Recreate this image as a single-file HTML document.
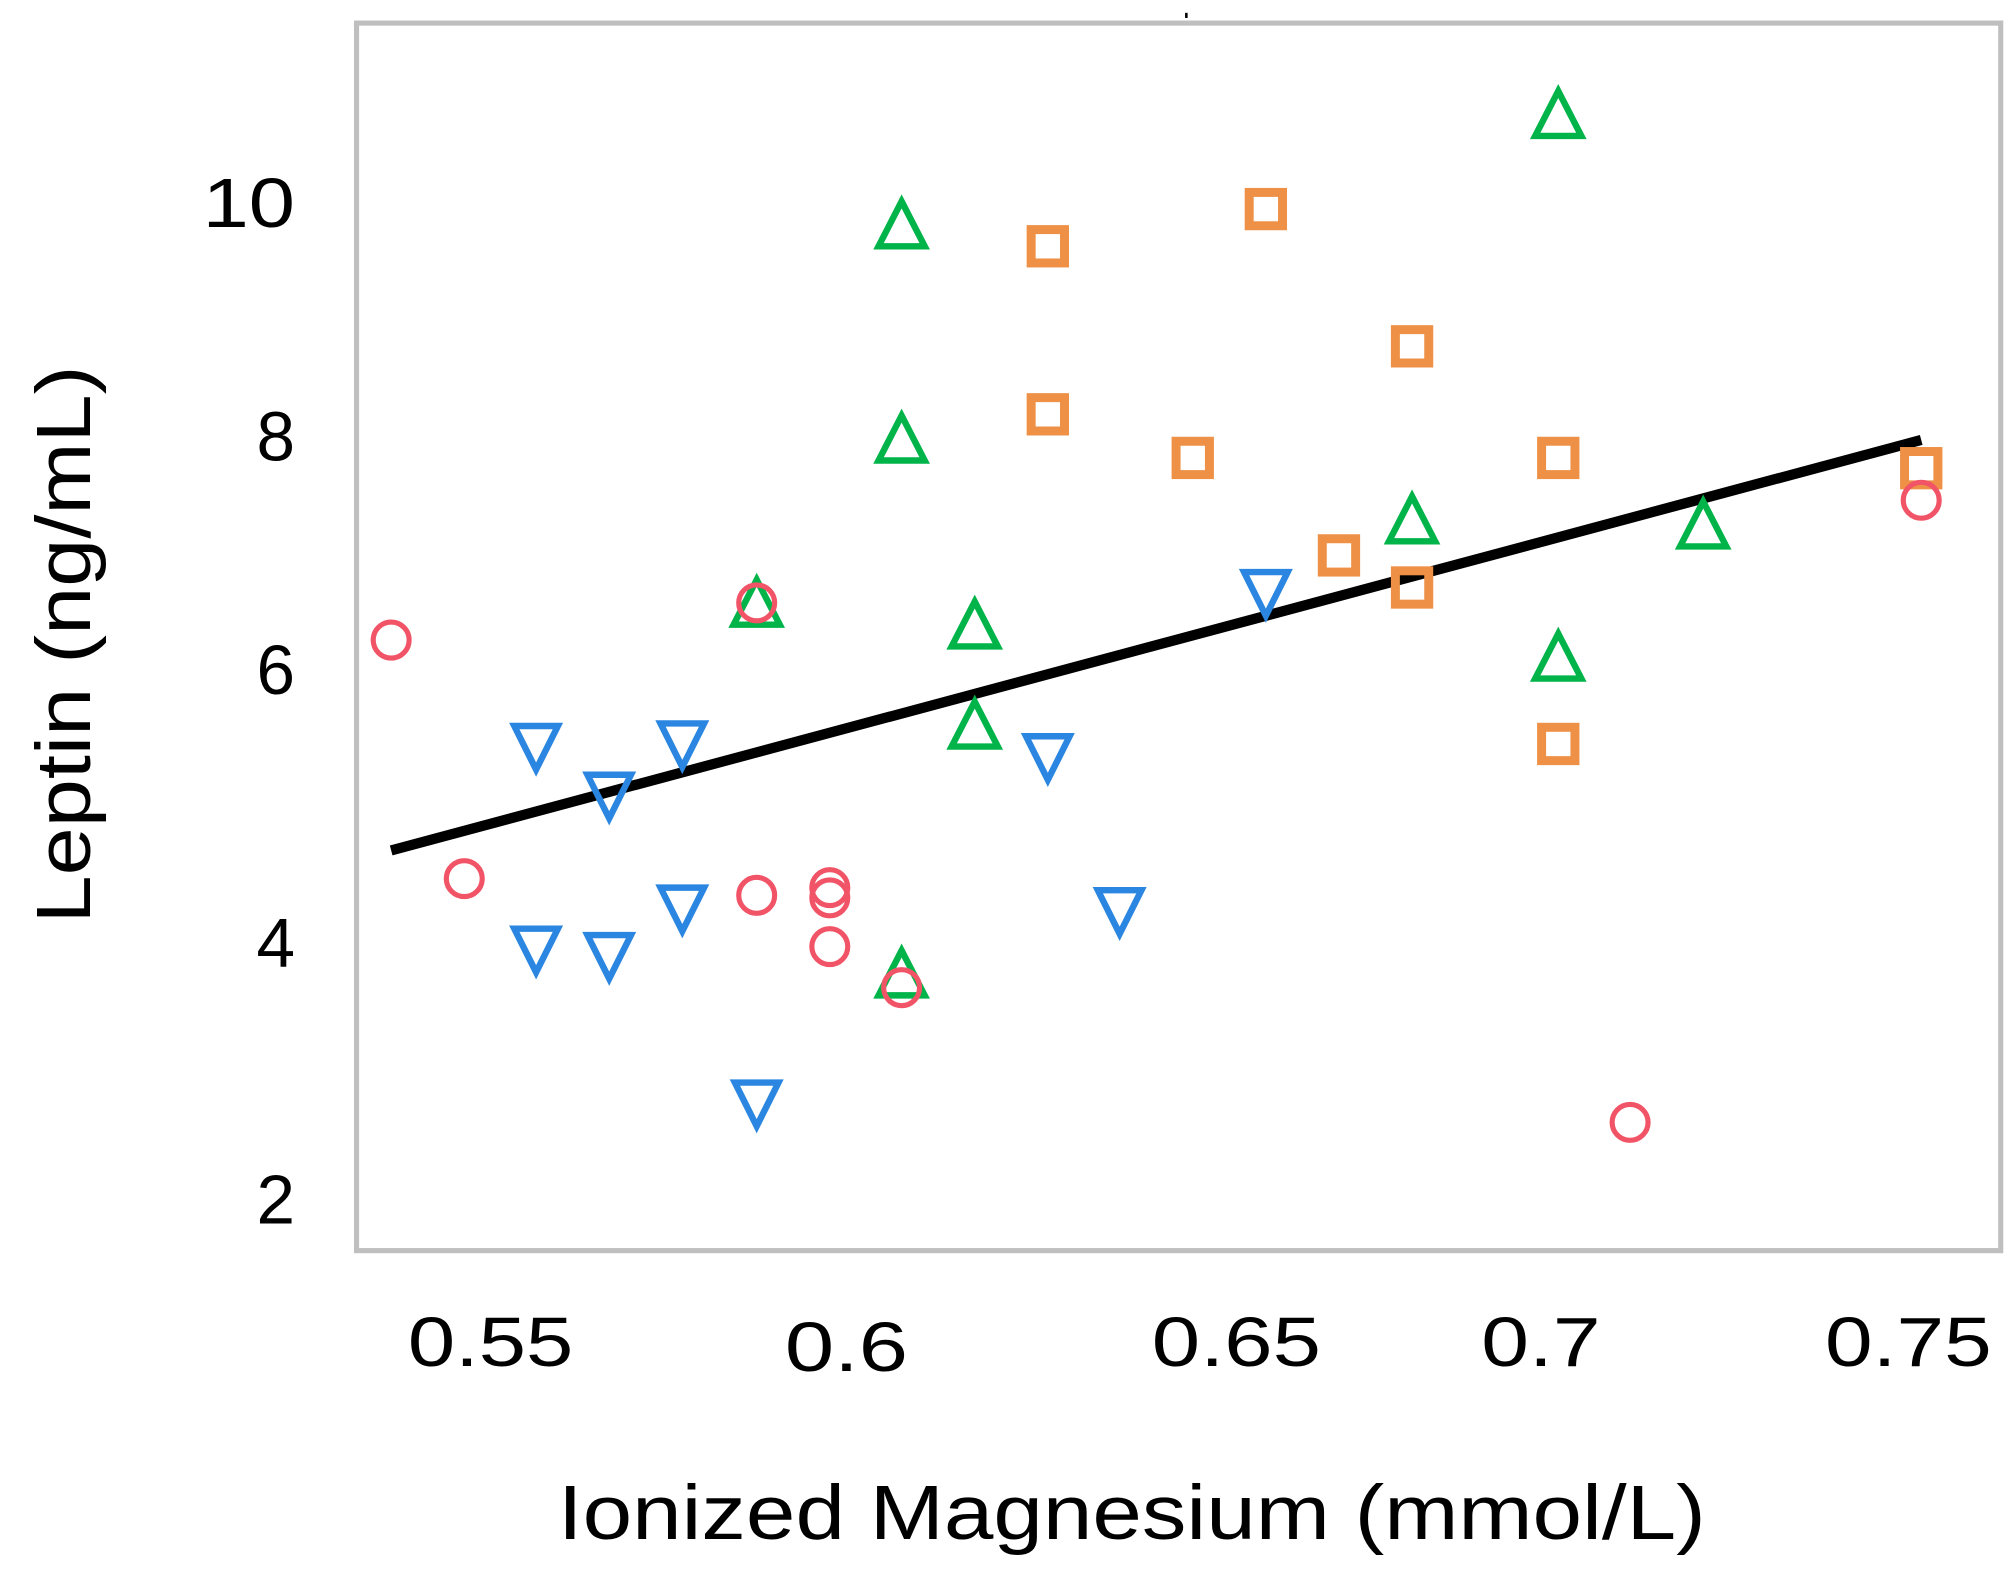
<!DOCTYPE html>
<html><head><meta charset="utf-8"><style>
html,body{margin:0;padding:0;background:#fff;}
svg{display:block;}
text{font-family:"Liberation Sans",sans-serif;fill:#000;}
</style></head><body>
<svg width="2011" height="1579" viewBox="0 0 1568 1231" preserveAspectRatio="none" xmlns="http://www.w3.org/2000/svg">
<rect x="278" y="18" width="1282" height="957" fill="none" stroke="#bfbfbf" stroke-width="4"/>
<line x1="925" y1="10" x2="925" y2="14" stroke="#000" stroke-width="2"/>
<g font-size="54" text-anchor="end">
<text x="230" y="177" textLength="72" lengthAdjust="spacingAndGlyphs">10</text>
<text x="230" y="359">8</text>
<text x="230" y="541">6</text>
<text x="230" y="754">4</text>
<text x="230" y="954">2</text>
</g>
<g font-size="54">
<text x="318" y="1065" textLength="129" lengthAdjust="spacingAndGlyphs">0.55</text>
<text x="612" y="1069" textLength="96" lengthAdjust="spacingAndGlyphs">0.6</text>
<text x="898" y="1065" textLength="132" lengthAdjust="spacingAndGlyphs">0.65</text>
<text x="1155" y="1065" textLength="93" lengthAdjust="spacingAndGlyphs">0.7</text>
<text x="1423" y="1065" textLength="130" lengthAdjust="spacingAndGlyphs">0.75</text>
</g>
<text x="435" y="1200" font-size="60" textLength="895" lengthAdjust="spacingAndGlyphs">Ionized Magnesium (mmol/L)</text>
<text transform="translate(70,720) rotate(-90)" font-size="60" textLength="435" lengthAdjust="spacingAndGlyphs">Leptin (ng/mL)</text>
<line x1="305" y1="663" x2="1498" y2="343" stroke="#000" stroke-width="8"/>
<g fill="none" stroke="#ee9045" stroke-width="7">
<rect x="804" y="179" width="26" height="26"/><rect x="804" y="310" width="26" height="26"/>
<rect x="917" y="344" width="26" height="26"/><rect x="974" y="150" width="26" height="26"/>
<rect x="1031" y="420" width="26" height="26"/><rect x="1088" y="257" width="26" height="26"/>
<rect x="1088" y="445" width="26" height="26"/><rect x="1202" y="344" width="26" height="26"/>
<rect x="1202" y="567" width="26" height="26"/><rect x="1485" y="352" width="26" height="26"/>
</g>
<g fill="none" stroke="#00b44a" stroke-width="5">
<path d="M703,157 L721,192 L685,192Z"/><path d="M703,324 L721,359 L685,359Z"/>
<path d="M590,452 L608,487 L572,487Z"/><path d="M760,469 L778,504 L742,504Z"/>
<path d="M760,547 L778,582 L742,582Z"/><path d="M703,741 L721,776 L685,776Z"/>
<path d="M1101,387 L1119,422 L1083,422Z"/><path d="M1215,71 L1233,106 L1197,106Z"/>
<path d="M1215,494 L1233,529 L1197,529Z"/><path d="M1328,391 L1346,426 L1310,426Z"/>
</g>
<g fill="none" stroke="#2a86e0" stroke-width="5">
<path d="M401,566 L435,566 L418,600Z"/><path d="M401,724 L435,724 L418,758Z"/>
<path d="M458,604 L492,604 L475,638Z"/><path d="M458,729 L492,729 L475,763Z"/>
<path d="M515,564 L549,564 L532,598Z"/><path d="M515,692 L549,692 L532,726Z"/>
<path d="M573,844 L607,844 L590,878Z"/><path d="M800,574 L834,574 L817,608Z"/>
<path d="M856,694 L890,694 L873,728Z"/><path d="M970,446 L1004,446 L987,480Z"/>
</g>
<g fill="none" stroke="#f25467" stroke-width="4">
<circle cx="305" cy="499" r="14"/><circle cx="362" cy="685" r="14"/>
<circle cx="590" cy="470" r="14"/><circle cx="590" cy="698" r="14"/>
<circle cx="647" cy="692" r="14"/><circle cx="647" cy="700" r="14"/>
<circle cx="647" cy="738" r="14"/><circle cx="703" cy="770" r="14"/>
<circle cx="1271" cy="875" r="14"/><circle cx="1498" cy="390" r="14"/>
</g>
</svg>
</body></html>
